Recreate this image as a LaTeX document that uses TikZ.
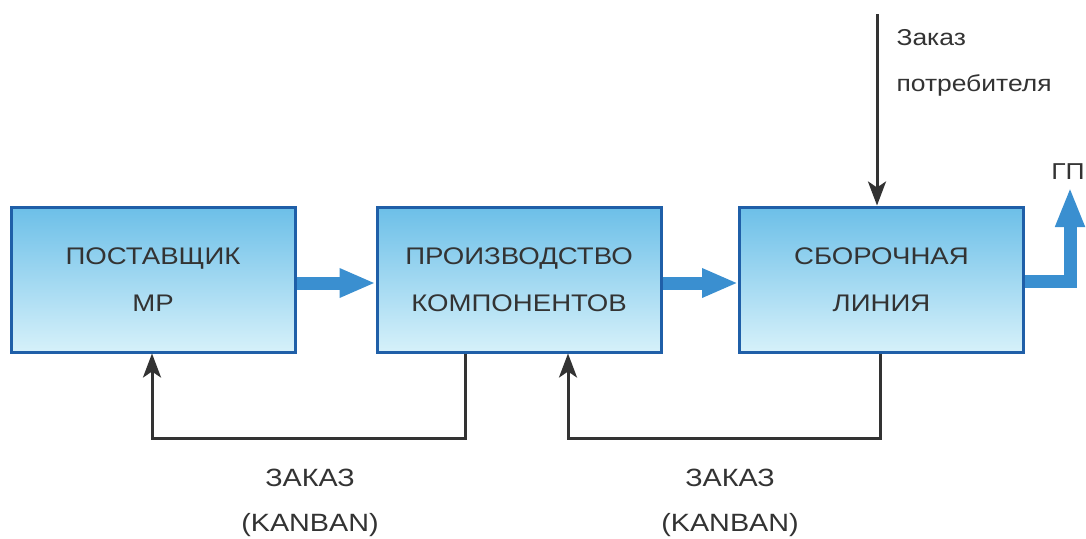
\documentclass[tikz,border=0pt]{standalone}
\usepackage{fontspec}
\setmainfont[FakeStretch=1.15]{Liberation Sans}
\usetikzlibrary{arrows.meta}
\definecolor{boxborder}{HTML}{1F5FA8}
\definecolor{boxtop}{HTML}{6CBFE8}
\definecolor{boxbot}{HTML}{D6F1FA}
\definecolor{flow}{HTML}{3A8FD0}
\definecolor{txt}{HTML}{333333}
\tikzset{
  unit/.style={draw=boxborder, line width=3pt, top color=boxtop, bottom color=boxbot,
    minimum width=284pt, minimum height=145pt, align=center, text=txt,
    font=\fontsize{24}{47}\selectfont},
  flowarrow/.style={draw=flow, line width=13pt, -{Triangle[length=36pt,width=27pt]}},
  order/.style={draw=txt, line width=3pt, -{Stealth[length=24pt,width=18pt,inset=6pt]}},
  lbl/.style={text=txt, align=center, font=\fontsize{25}{45}\selectfont},
  lblleft/.style={text=txt, align=left, font=\fontsize{23}{46}\selectfont, anchor=north west}
}
\begin{document}
\begin{tikzpicture}[x=1pt,y=-1pt]
\useasboundingbox (0,0) rectangle (1086,538);
\node[unit] (sup) at (153,279.5) {ПОСТАВЩИК\\МР};
\node[unit] (comp) at (519,279.5) {ПРОИЗВОДСТВО\\КОМПОНЕНТОВ};
\node[unit] (line) at (881.5,279.5) {СБОРОЧНАЯ\\ЛИНИЯ};
\draw[flowarrow] (sup.east |- 0,283) -- (comp.west |- 0,283);
\draw[flowarrow] (comp.east |- 0,283) -- (line.west |- 0,283);
\coordinate (gp) at (1070,187);
\draw[draw=flow, line width=13pt, -{Triangle[length=40pt,width=27pt]}] (line.east |- 0,281) -| (gp);
\node[text=txt, font=\fontsize{23}{24}\selectfont, anchor=south] (gplbl) at (1068,183) {ГП};
\coordinate (cust) at (877,14);
\draw[order] (cust) -- (line.north -| cust);
\node[lblleft] (custlbl) at (893,26) {Заказ\\потребителя};
\draw[order] (comp.south -| 465,0) -- (465,438) -- (152,438) -- (sup.south -| 152,0);
\draw[order] (line.south -| 880,0) -- (880,438) -- (568,438) -- (comp.south -| 568,0);
\node[lbl] (k1) at (310,503) {ЗАКАЗ\\(KANBAN)};
\node[lbl] (k2) at (730,503) {ЗАКАЗ\\(KANBAN)};
\end{tikzpicture}
\end{document}
